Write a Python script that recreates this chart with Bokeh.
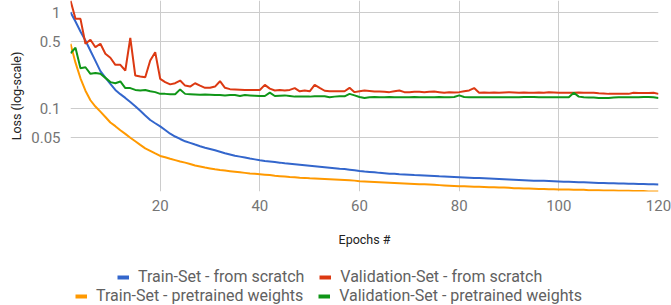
from bokeh.plotting import figure
from bokeh.layouts import column
from bokeh.models import Range1d, FixedTicker, CustomJSTickFormatter, Legend, LegendItem
from bokeh.embed import file_html
from bokeh.resources import INLINE

epochs = list(range(2, 121))

train_scratch = [
    1.00, 0.80, 0.63, 0.507, 0.397, 0.311, 0.243, 0.208, 0.179, 0.155,
    0.140, 0.128, 0.116, 0.105, 0.094, 0.084, 0.0753, 0.0697, 0.0646, 0.0593,
    0.0542, 0.0507, 0.0478, 0.0452, 0.0435, 0.0418, 0.0402, 0.0388, 0.0376, 0.0364,
    0.0352, 0.0340, 0.0330, 0.0320, 0.0313, 0.0306, 0.0299, 0.0293, 0.0287, 0.0282,
    0.0279, 0.0275, 0.0271, 0.0267, 0.0264, 0.0261, 0.0258, 0.0255, 0.0252, 0.0249,
    0.0246, 0.0243, 0.0240, 0.0237, 0.0234, 0.0232, 0.0229, 0.0226, 0.0222, 0.0219,
    0.0217, 0.0215, 0.0212, 0.0210, 0.0208, 0.0207, 0.0205, 0.0204, 0.0203, 0.0201,
    0.0200, 0.0199, 0.0198, 0.0197, 0.0195, 0.0194, 0.0193, 0.0192, 0.0191, 0.0190,
    0.0189, 0.0188, 0.0187, 0.0186, 0.0185, 0.0184, 0.0183, 0.0182, 0.0181, 0.0180,
    0.0179, 0.0178, 0.0177, 0.0176, 0.0175, 0.0175, 0.0174, 0.0173, 0.0172, 0.0171,
    0.0171, 0.0170, 0.0169, 0.0169, 0.0168, 0.0167, 0.0166, 0.0166, 0.0165, 0.0165,
    0.0164, 0.0164, 0.0163, 0.0163, 0.0162, 0.0162, 0.0161, 0.0161, 0.0160,
]

val_scratch = [
    1.32, 0.853, 0.853, 0.469, 0.516, 0.432, 0.469, 0.369, 0.335, 0.283,
    0.283, 0.247, 0.541, 0.219, 0.214, 0.210, 0.314, 0.383, 0.202, 0.187,
    0.177, 0.182, 0.194, 0.172, 0.168, 0.182, 0.172, 0.163, 0.163, 0.168,
    0.191, 0.163, 0.158, 0.157, 0.156, 0.155, 0.155, 0.155, 0.155, 0.175,
    0.160, 0.153, 0.155, 0.153, 0.155, 0.162, 0.150, 0.153, 0.150, 0.175,
    0.163, 0.152, 0.150, 0.150, 0.150, 0.150, 0.163, 0.147, 0.150, 0.153,
    0.151, 0.149, 0.149, 0.148, 0.147, 0.150, 0.153, 0.147, 0.147, 0.148,
    0.148, 0.147, 0.148, 0.149, 0.147, 0.145, 0.147, 0.146, 0.147, 0.150,
    0.153, 0.162, 0.145, 0.146, 0.145, 0.146, 0.145, 0.146, 0.147, 0.146,
    0.145, 0.146, 0.145, 0.145, 0.146, 0.145, 0.147, 0.146, 0.145, 0.145,
    0.145, 0.145, 0.146, 0.145, 0.145, 0.145, 0.143, 0.142, 0.141, 0.141,
    0.141, 0.141, 0.141, 0.145, 0.144, 0.144, 0.144, 0.145, 0.141,
]

train_pre = [
    0.469, 0.298, 0.205, 0.152, 0.121, 0.104, 0.092, 0.081, 0.071, 0.065,
    0.059, 0.054, 0.0492, 0.0452, 0.0415, 0.0382, 0.0360, 0.0338, 0.0318, 0.0308,
    0.0297, 0.0288, 0.0279, 0.0271, 0.0262, 0.0253, 0.0247, 0.0241, 0.0236, 0.0231,
    0.0227, 0.0224, 0.0221, 0.0218, 0.0215, 0.0212, 0.0209, 0.0207, 0.0205, 0.0203,
    0.0201, 0.0198, 0.0196, 0.0194, 0.0192, 0.0191, 0.0189, 0.0188, 0.0186, 0.0185,
    0.0184, 0.0183, 0.0182, 0.0181, 0.0180, 0.0179, 0.0178, 0.0176, 0.0173, 0.0172,
    0.0171, 0.0170, 0.0169, 0.0168, 0.0167, 0.0166, 0.0165, 0.0164, 0.0163, 0.0162,
    0.0161, 0.0161, 0.0160, 0.0159, 0.0158, 0.0157, 0.0156, 0.0155, 0.0154, 0.0154,
    0.0153, 0.0152, 0.0152, 0.0151, 0.0150, 0.0150, 0.0149, 0.0149, 0.0148, 0.0147,
    0.0147, 0.0146, 0.0146, 0.0145, 0.0144, 0.0144, 0.0143, 0.0143, 0.0142, 0.0142,
    0.0142, 0.0141, 0.0141, 0.0141, 0.0140, 0.0140, 0.0140, 0.0139, 0.0139, 0.0139,
    0.0138, 0.0138, 0.0138, 0.0137, 0.0137, 0.0137, 0.0136, 0.0136, 0.0136,
]

val_pre = [
    0.374, 0.426, 0.261, 0.267, 0.228, 0.232, 0.228, 0.207, 0.187, 0.182,
    0.190, 0.162, 0.162, 0.155, 0.153, 0.155, 0.150, 0.147, 0.141, 0.141,
    0.140, 0.140, 0.157, 0.141, 0.140, 0.139, 0.138, 0.139, 0.138, 0.137,
    0.137, 0.136, 0.137, 0.137, 0.134, 0.137, 0.136, 0.135, 0.134, 0.134,
    0.145, 0.134, 0.135, 0.136, 0.134, 0.132, 0.132, 0.132, 0.132, 0.133,
    0.133, 0.133, 0.130, 0.132, 0.133, 0.133, 0.141, 0.136, 0.131, 0.128,
    0.130, 0.131, 0.130, 0.130, 0.131, 0.130, 0.130, 0.130, 0.130, 0.131,
    0.130, 0.130, 0.130, 0.130, 0.131, 0.130, 0.130, 0.131, 0.136, 0.131,
    0.130, 0.130, 0.130, 0.130, 0.130, 0.130, 0.130, 0.130, 0.130, 0.130,
    0.130, 0.131, 0.131, 0.131, 0.130, 0.130, 0.130, 0.130, 0.130, 0.130,
    0.130, 0.145, 0.132, 0.130, 0.129, 0.129, 0.128, 0.128, 0.128, 0.129,
    0.130, 0.130, 0.130, 0.130, 0.130, 0.131, 0.131, 0.130, 0.128,
]

x_ticks = [20, 40, 60, 80, 100, 120]
y_ticks = [0.05, 0.1, 0.5, 1]

series_names = [
    "Train-Set - from scratch",
    "Validation-Set - from scratch",
    "Train-Set - pretrained weights",
    "Validation-Set - pretrained weights",
]
series_colors = ["#3366cc", "#dc3912", "#ff9900", "#109618"]
series_values = [train_scratch, val_scratch, train_pre, val_pre]

FONT = "Roboto"

p = figure(
    width=671, height=260,
    x_range=Range1d(2, 120),
    y_range=Range1d(0.01356, 1.324),
    y_axis_type="log",
    output_backend="svg",
    toolbar_location=None,
    min_border_left=70, min_border_right=13, min_border_top=0, min_border_bottom=69,
)
p.outline_line_color = None
p.background_fill_color = "white"
p.border_fill_color = "white"

p.xaxis.ticker = FixedTicker(ticks=x_ticks)
p.yaxis.ticker = FixedTicker(ticks=y_ticks)
p.yaxis.formatter = CustomJSTickFormatter(code="return String(tick);")
for ax in (p.xaxis[0], p.yaxis[0]):
    ax.axis_line_color = None
    ax.major_tick_line_color = None
    ax.minor_tick_line_color = None
    ax.major_tick_out = 0
    ax.major_label_text_font = FONT
    ax.major_label_text_font_size = "15px"
    ax.major_label_text_color = "#757575"
    ax.axis_label_text_font = FONT
    ax.axis_label_text_font_size = "12.5px"
    ax.axis_label_text_font_style = "normal"
    ax.axis_label_text_color = "#222222"
p.xaxis.axis_label = "Epochs #"
p.yaxis.axis_label = "Loss (log-scale)"
p.xaxis.major_label_standoff = 8
p.xaxis.axis_label_standoff = 18
p.yaxis.major_label_standoff = 10
p.yaxis.axis_label_standoff = 4

p.xgrid.grid_line_color = "#cccccc"
p.ygrid.grid_line_color = "#cccccc"

for vals, col in zip(series_values, series_colors):
    p.line(epochs, vals, line_color=col, line_width=2)

# legend strip below the chart
q = figure(
    width=671, height=45,
    x_range=Range1d(0, 1), y_range=Range1d(0, 1),
    output_backend="svg", toolbar_location=None,
    min_border=0, x_axis_location=None, y_axis_location=None,
)
q.outline_line_color = None
q.xgrid.visible = False
q.ygrid.visible = False

# swatch-only renderers (one off-range point each, never visible in the strip)
proxies = [q.line(x=[-1], y=[-1], line_color=col, line_width=4) for col in series_colors]

def make_legend(idx, loc, h):
    leg = Legend(
        items=[LegendItem(label=series_names[i], renderers=[proxies[i]]) for i in idx],
        orientation="horizontal",
        location=loc,
        glyph_width=12, glyph_height=h, label_height=h,
        label_standoff=9, spacing=15, padding=0, margin=0,
        label_text_font=FONT, label_text_font_size="16px",
        label_text_color="#616161",
        background_fill_alpha=0, border_line_color=None,
    )
    q.add_layout(leg, "center")
    return leg

make_legend([0, 1], (47, 19), 18)
make_legend([2, 3], (5, 0), 14)

open("out.html", "w").write(file_html(column(p, q), INLINE))
